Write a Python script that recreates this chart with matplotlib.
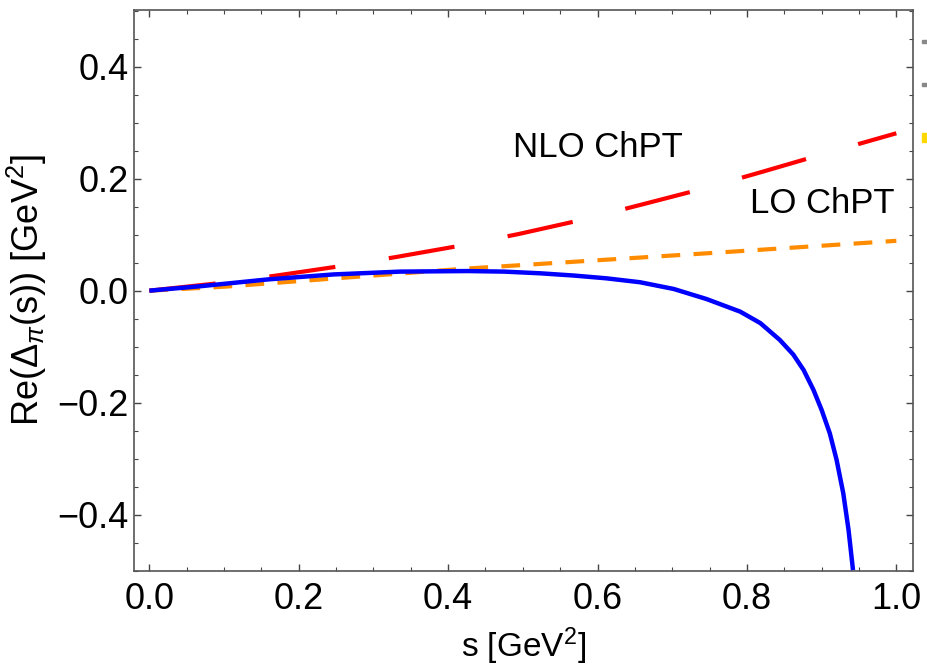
import numpy as np
import matplotlib
matplotlib.use("Agg")
import matplotlib.pyplot as plt
from matplotlib.ticker import MultipleLocator
from matplotlib.patches import Rectangle

plt.rcParams['font.family'] = ['Liberation Sans', 'DejaVu Sans']
plt.rcParams['mathtext.fontset'] = 'custom'
plt.rcParams['mathtext.rm'] = 'Liberation Sans'
plt.rcParams['mathtext.it'] = 'Liberation Sans:italic'

# full result (blue)
s_full = [0.0, 0.069, 0.158, 0.247, 0.336, 0.426, 0.475, 0.523, 0.568, 0.612, 0.657,
          0.702, 0.746, 0.791, 0.818, 0.844, 0.862, 0.876, 0.889, 0.900, 0.911,
          0.920, 0.929, 0.936, 0.942]
d_full = [0.0, 0.008, 0.020, 0.029, 0.034, 0.035, 0.034, 0.031, 0.027, 0.022, 0.015,
          0.003, -0.015, -0.0375, -0.058, -0.088, -0.114, -0.142, -0.177, -0.213, -0.255,
          -0.302, -0.362, -0.427, -0.499]

# NLO ChPT (red long dash)
s_nlo = [0.0, 0.084, 0.165, 0.252, 0.33, 0.415, 0.494, 0.581, 0.657, 0.744, 0.82, 0.905, 1.0]
d_nlo = [0.0, 0.012, 0.026, 0.043, 0.060, 0.080, 0.101, 0.127, 0.153, 0.183, 0.212, 0.245, 0.281]

# LO ChPT (orange dash)
s_lo = [0.0, 0.1, 0.22, 0.42, 0.75, 1.0]
d_lo = [0.0, 0.007, 0.019, 0.039, 0.067, 0.089]

fig = plt.figure(figsize=(9.27, 6.71), dpi=100)
ax = fig.add_axes([0.1446, 0.1495, 0.8398, 0.8355])

ax.plot(s_lo, d_lo, color='#ff8c00', lw=3.0, dashes=(4.5, 3.2), zorder=2)
ax.plot(s_nlo, d_nlo, color='#ff0000', lw=3.0, dashes=(16, 13), zorder=3)
ax.plot(s_full, d_full, color='#0000ff', lw=3.2, zorder=4,
        solid_capstyle='butt', solid_joinstyle='round')

ax.text(0.600, 0.255, 'NLO ChPT', fontsize=25, ha='center', va='center')
ax.text(0.901, 0.156, 'LO ChPT', fontsize=25, ha='center', va='center')

ax.set_xlim(-0.0205, 1.0217)
ax.set_ylim(-0.5, 0.501)
ax.xaxis.set_major_locator(MultipleLocator(0.2))
ax.xaxis.set_minor_locator(MultipleLocator(0.05))
ax.yaxis.set_major_locator(MultipleLocator(0.2))
ax.yaxis.set_minor_locator(MultipleLocator(0.05))
ax.xaxis.set_major_formatter(plt.FormatStrFormatter('%.1f'))
ax.yaxis.set_major_formatter(plt.FuncFormatter(lambda v, p: ('%.1f' % v).replace('-', '\u2212')))

ax.tick_params(which='both', direction='in', top=True, right=True, color='#444444',
               labelsize=26)
ax.tick_params(which='major', length=5, width=1)
ax.tick_params(which='minor', length=3, width=0.8)
ax.tick_params(axis='x', pad=8)
ax.tick_params(axis='y', pad=4)
for sp in ax.spines.values():
    sp.set_color('#555555')
    sp.set_linewidth(1.2)

ax.set_xlabel('s [GeV$^2$]', fontsize=24, labelpad=6)
ax.set_ylabel(r'Re($\Delta_\pi$(s)) [GeV$^2$]', fontsize=26, labelpad=6)

# clipped legend remnants at right edge
for y0, h, c in [(40, 3, '#888888'), (83, 3, '#888888'), (133, 9, '#ffd700')]:
    fig.patches.append(Rectangle((922 / 927, 1 - (y0 + h) / 671), 6 / 927, h / 671,
                                 transform=fig.transFigure, color=c, zorder=5))

fig.savefig('out.png', dpi=100)
